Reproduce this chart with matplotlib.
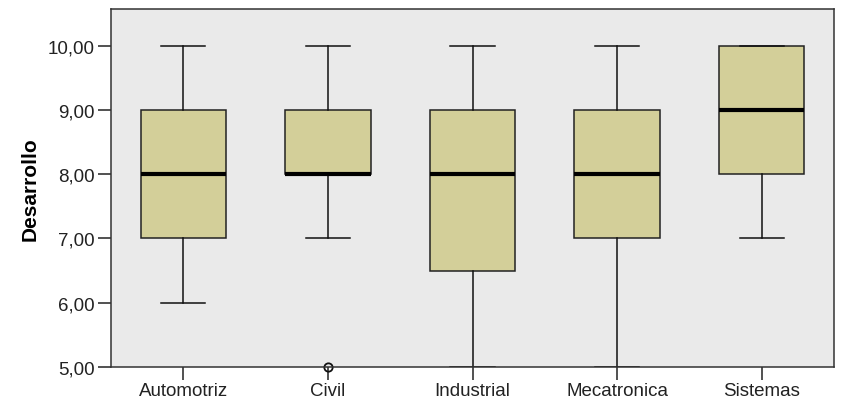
import matplotlib
matplotlib.use("Agg")
import matplotlib.pyplot as plt
from matplotlib.ticker import FuncFormatter

plt.rcParams['font.family'] = ['Liberation Sans', 'DejaVu Sans']

carreras = ["Automotriz", "Civil", "Industrial", "Mecatronica", "Sistemas"]
bigote_inf = [6, 7, 5, 5, 7]
q1 = [7, 8, 6.5, 7, 8]
mediana = [8, 8, 8, 8, 9]
q3 = [9, 9, 9, 9, 10]
bigote_sup = [10, 10, 10, 10, 10]
atipicos = [[], [5], [], [], []]

stats = []
for i, c in enumerate(carreras):
    stats.append(dict(label=c, whislo=bigote_inf[i], q1=q1[i], med=mediana[i],
                      q3=q3[i], whishi=bigote_sup[i], fliers=atipicos[i]))

fig = plt.figure(figsize=(8.49, 4.10), dpi=100)
ax = fig.add_axes([111/849, 1-368/410, (834-111)/849, (368-10)/410])
ax.set_facecolor("#EAEAEA")

bp = ax.bxp(stats, positions=range(len(carreras)), widths=0.59, patch_artist=True,
            boxprops=dict(facecolor="#D3CF99", edgecolor="#222222", linewidth=1.1),
            medianprops=dict(color="black", linewidth=3.0, solid_capstyle="butt"),
            whiskerprops=dict(color="#111111", linewidth=1.1),
            capprops=dict(color="#111111", linewidth=1.1),
            capwidths=0.305,
            flierprops=dict(marker="o", markersize=6, markerfacecolor="none",
                            markeredgecolor="#111111", markeredgewidth=1.3))
for fl in bp["fliers"]:
    fl.set_clip_on(False)

ax.set_xlim(-0.5, 4.5)
ax.set_ylim(5, 10.57)
ax.set_yticks([5, 6, 7, 8, 9, 10])
ax.yaxis.set_major_formatter(FuncFormatter(lambda v, p: f"{v:.2f}".replace(".", ",")))
ax.tick_params(axis="both", direction="out", length=9.5, width=1.1, color="#222222",
               labelsize=13.5, labelcolor="#222222", pad=2)
ax.tick_params(axis="x", pad=1)
for s in ax.spines.values():
    s.set_color("#333333")
    s.set_linewidth(1.1)

ax.set_ylabel("Desarrollo", fontsize=15, fontweight="bold", labelpad=6)

fig.savefig("out.png", dpi=100)
